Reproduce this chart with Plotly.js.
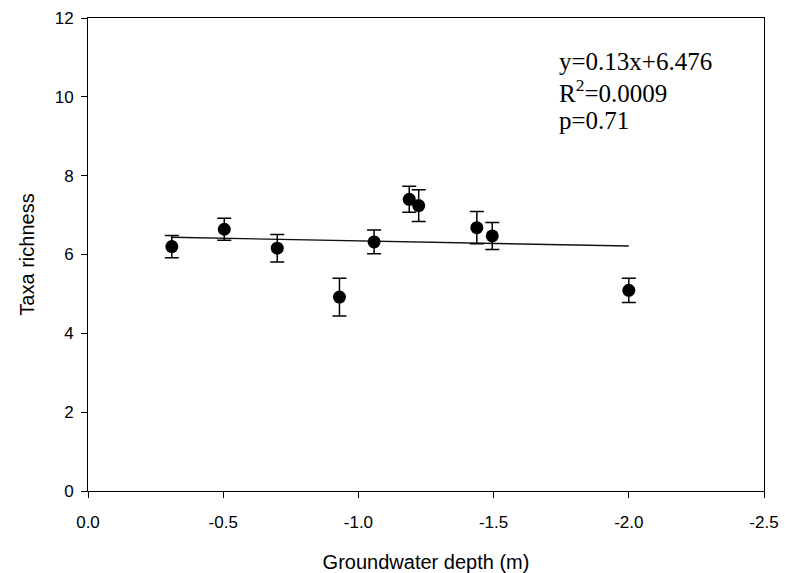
<!DOCTYPE html>
<html>
<head>
<meta charset="utf-8">
<script src="https://cdn.plot.ly/plotly-3.0.1.min.js"></script>
<style>
  html, body { margin: 0; padding: 0; background: #fff; }
  #chart { width: 785px; height: 573px; }
</style>
</head>
<body>
<div id="chart"></div>
<script>
// Data
const depth    = [-0.31, -0.504, -0.70, -0.93, -1.058, -1.188, -1.223, -1.438, -1.495, -2.0];
const richness = [6.20, 6.64, 6.16, 4.92, 6.32, 7.40, 7.24, 6.68, 6.47, 5.09];
const errSE    = [0.28, 0.28, 0.35, 0.48, 0.30, 0.33, 0.40, 0.41, 0.34, 0.31];
const fitX     = [-0.31, -2.0];
const fitY     = [6.436, 6.216];
const xTickVals = [0, -0.5, -1.0, -1.5, -2.0, -2.5];
const xTickText = ["0.0", "-0.5", "-1.0", "-1.5", "-2.0", "-2.5"];
const yTickVals = [0, 2, 4, 6, 8, 10, 12];
const statLines = ["y=0.13x+6.476", "R<sup>2</sup>=0.0009", "p=0.71"];

const traces = [
  {
    x: fitX, y: fitY, type: 'scatter', mode: 'lines',
    line: { color: '#111', width: 1.4 },
    hoverinfo: 'skip', showlegend: false
  },
  {
    x: depth, y: richness, type: 'scatter', mode: 'markers',
    marker: { color: '#000', size: 13, symbol: 'circle' },
    error_y: { type: 'data', array: errSE, visible: true, color: '#000', thickness: 1.5, width: 7 },
    showlegend: false
  }
];

const statY = [10.90, 10.14, 9.41];
const annotations = statLines.map((t, i) => ({
  text: t, xref: 'x', yref: 'y', x: -1.733, y: statY[i],
  xanchor: 'left', yanchor: 'middle', showarrow: false,
  font: { family: 'Liberation Serif, Times New Roman, serif', size: 25, color: '#000' }
}));

const axisFont = { family: 'Liberation Sans, Arial, sans-serif', size: 17, color: '#000' };

const layout = {
  width: 785, height: 573,
  margin: { l: 88, r: 21, t: 17.5, b: 81.5, pad: 0 },
  paper_bgcolor: '#fff', plot_bgcolor: '#fff',
  showlegend: false,
  font: axisFont,
  xaxis: {
    range: [0, -2.5], autorange: false,
    tickvals: xTickVals, ticktext: xTickText,
    ticks: 'outside', ticklen: 6, tickwidth: 1, tickcolor: '#000',
    ticklabelstandoff: 10,
    showline: true, linecolor: '#000', linewidth: 1, mirror: true,
    showgrid: false, zeroline: false,
    tickfont: axisFont,
    title: { text: 'Groundwater depth (m)', font: { family: 'Liberation Sans, Arial, sans-serif', size: 20, color: '#000' }, standoff: 24 }
  },
  yaxis: {
    range: [0, 12], autorange: false,
    tickvals: yTickVals,
    ticks: 'outside', ticklen: 6, tickwidth: 1, tickcolor: '#000',
    ticklabelstandoff: 4,
    showline: true, linecolor: '#000', linewidth: 1, mirror: true,
    showgrid: false, zeroline: false,
    tickfont: axisFont,
    title: { text: 'Taxa richness', font: { family: 'Liberation Sans, Arial, sans-serif', size: 20, color: '#000' }, standoff: 14 }
  },
  annotations: annotations
};

Plotly.newPlot('chart', traces, layout, { staticPlot: true, displayModeBar: false });
</script>
</body>
</html>
